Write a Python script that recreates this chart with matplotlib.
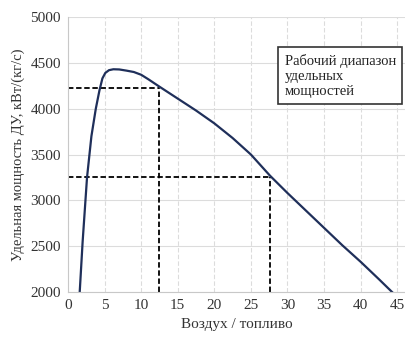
import matplotlib
matplotlib.use("Agg")
import matplotlib.pyplot as plt

x_vals = [1.6, 2.0, 2.6, 3.2, 3.8, 4.3, 4.7, 5.1, 5.6, 6.2, 7.0, 8.0, 9.0, 10.0, 11.0, 12.5, 15.0, 17.5, 20.0, 22.5, 25.0, 27.6, 30.0, 32.5, 35.0, 37.5, 40.0, 42.5, 44.3]
y_vals = [2000, 2550, 3250, 3700, 4000, 4200, 4330, 4390, 4420, 4430, 4428, 4415, 4400, 4370, 4320, 4240, 4110, 3980, 3840, 3680, 3500, 3270, 3080, 2890, 2700, 2510, 2330, 2140, 2000]

ref_x = [12.5, 27.6]
ref_y = [4230, 3260]

x_ticks = [0, 5, 10, 15, 20, 25, 30, 35, 40, 45]
y_ticks = [2000, 2500, 3000, 3500, 4000, 4500, 5000]

plt.rcParams['font.family'] = ['Liberation Serif', 'DejaVu Serif']

fig = plt.figure(figsize=(4.06, 3.40), dpi=100)
ax = fig.add_axes([0.1675, 0.141, 0.8325, 0.809])

ax.set_xlim(0, 46.2)
ax.set_ylim(2000, 5000)
ax.set_xticks(x_ticks)
ax.set_yticks(y_ticks)

ax.xaxis.grid(True, color='#dcdcdc', linestyle=(0, (4, 2)), linewidth=0.8)
ax.yaxis.grid(True, color='#dcdcdc', linestyle='-', linewidth=0.8)
ax.set_axisbelow(True)

for s in ['top', 'right']:
    ax.spines[s].set_visible(False)
for s in ['left', 'bottom']:
    ax.spines[s].set_color('#c8c8c8')
    ax.spines[s].set_linewidth(0.8)
ax.tick_params(length=0, labelsize=11, colors='#333333', pad=5)

for rx, ry in zip(ref_x, ref_y):
    ax.plot([0, rx], [ry, ry], color='black', linestyle=(0, (3, 1.5)), linewidth=1.3)
    ax.plot([rx, rx], [2000, ry], color='black', linestyle=(0, (3, 1.5)), linewidth=1.3)

ax.plot(x_vals, y_vals, color='#1f2f5a', linewidth=1.6)

ax.set_xlabel('Воздух / топливо', fontsize=11, color='#333333')
ax.set_ylabel('Удельная мощность ДУ, кВт/(кг/с)', fontsize=10.5, color='#333333')

ax.text(29.6, 4600, 'Рабочий диапазон\nудельных\nмощностей', fontsize=10.5, va='top', ha='left',
        color='#222222', linespacing=1.2,
        bbox=dict(boxstyle='square,pad=0.45', facecolor='white', edgecolor='#333333', linewidth=1.2))

fig.savefig('out.png', dpi=100)
